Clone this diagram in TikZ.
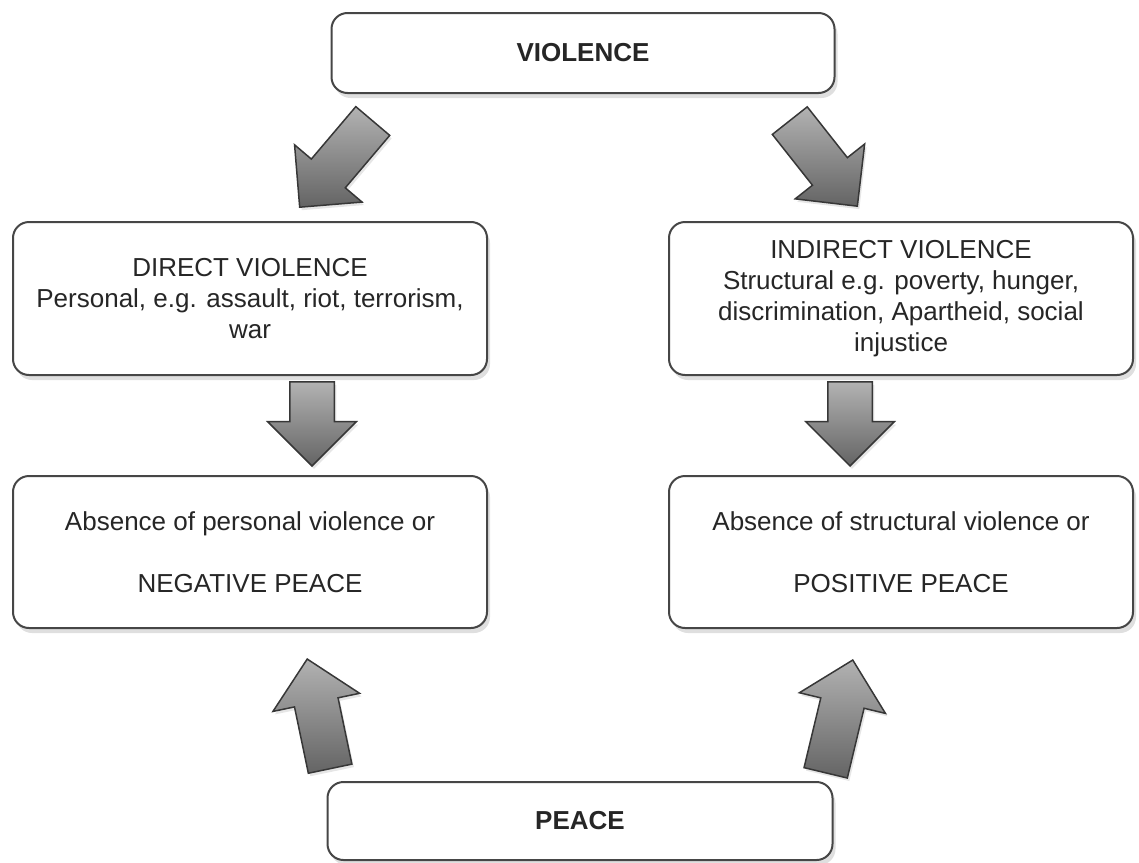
\documentclass[tikz,border=0pt]{standalone}
\usepackage{fontspec}
\setmainfont{Liberation Sans}
\usetikzlibrary{shapes.arrows,shadows}
\definecolor{boxline}{RGB}{70,70,70}
\definecolor{arrowline}{RGB}{55,55,55}
\definecolor{arrowdark}{RGB}{100,100,100}
\definecolor{arrowlight}{RGB}{178,178,178}
\tikzset{
  box/.style={draw=boxline, line width=2pt, rounded corners=16pt, fill=white,
    drop shadow={opacity=0.25, shadow xshift=3pt, shadow yshift=-5pt},
    align=center, text=black!85, font=\fontsize{26}{31}\selectfont},
  bigarrow/.style={single arrow, draw=arrowline, line width=1.5pt, anchor=tip,
    top color=arrowlight, bottom color=arrowdark, inner xsep=0pt, inner ysep=21.5pt,
    single arrow head extend=22pt,
    drop shadow={opacity=0.2, shadow xshift=2pt, shadow yshift=-3pt}}
}
\begin{document}
\begin{tikzpicture}[x=1pt,y=-1pt]
        \useasboundingbox (0,0) rectangle (1139,862);
        \node[box, minimum width=503pt, minimum height=80pt, font=\fontsize{26}{31}\selectfont\bfseries] (violence) at (583,53) {VIOLENCE};
        \node[box, minimum width=474pt, minimum height=153pt] (direct) at (250,298.5) {DIRECT VIOLENCE\\Personal, e.g. assault, riot, terrorism,\\war};
        \node[box, minimum width=464pt, minimum height=153pt] (indirect) at (901,298.5) {INDIRECT VIOLENCE\\Structural e.g. poverty, hunger,\\discrimination, Apartheid, social\\injustice};
        \node[box, minimum width=474pt, minimum height=152pt] (negpeace) at (250,552) {Absence of personal violence or\\[31pt]NEGATIVE PEACE};
        \node[box, minimum width=464pt, minimum height=152pt] (pospeace) at (901,552) {Absence of structural violence or\\[31pt]POSITIVE PEACE};
        \node[box, minimum width=505pt, minimum height=78pt, font=\fontsize{26}{31}\selectfont\bfseries] (peace) at (580,821) {PEACE};
        \node[bigarrow, minimum height=113pt, rotate=229.7] (arrdirect) at (299,208) {};
        \node[bigarrow, minimum height=109pt, rotate=308.3] (arrindirect) at (858,207) {};
        \node[bigarrow, minimum height=84pt, rotate=270] (arrneg) at (312,467) {};
        \node[bigarrow, minimum height=84pt, rotate=270] (arrpos) at (850,467) {};
        \node[bigarrow, minimum height=112pt, rotate=101.8] (arrpeaceneg) at (307,658) {};
        \node[bigarrow, minimum height=116pt, rotate=76.5] (arrpeacepos) at (853,659) {};
\end{tikzpicture}
\end{document}
